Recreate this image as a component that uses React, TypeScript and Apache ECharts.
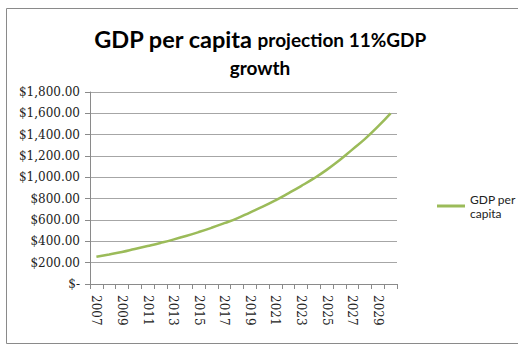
import React, { useEffect, useRef } from "react";
import * as echarts from "echarts";

const years = [
  "2007", "2008", "2009", "2010", "2011", "2012", "2013", "2014", "2015", "2016",
  "2017", "2018", "2019", "2020", "2021", "2022", "2023", "2024", "2025", "2026",
  "2027", "2028", "2029", "2030",
];
const gdpPerCapita = [
  255, 277, 300, 328, 356, 385, 416, 450, 487, 527,
  570, 615, 670, 725, 785, 850, 918, 990, 1070, 1160,
  1260, 1360, 1475, 1600,
];
const seriesName = "GDP per capita";

function fmtMoney(v: number): string {
  if (v === 0) return "$-";
  return "$" + v.toLocaleString("en-US", { minimumFractionDigits: 2, maximumFractionDigits: 2 });
}

export default function App() {
  const ref = useRef<HTMLDivElement>(null);
  useEffect(() => {
    if (!ref.current) return;
    const chart = echarts.init(ref.current, undefined, { renderer: "svg" });
    chart.setOption({
      animation: false,
      backgroundColor: "#ffffff",
      graphic: [
        {
          type: "rect",
          shape: { x: 6.5, y: 8.5, width: 530, height: 335 },
          style: { fill: "none", stroke: "#8a8a8a", lineWidth: 1 },
          silent: true,
        },
      ],
      title: {
        left: 255,
        top: 19,
        textAlign: "center",
        text: "{a|GDP per capita} {b|projection 11%GDP}\n{b|growth}",
        textStyle: {
          rich: {
            a: { fontFamily: "Lato", fontWeight: "bold", fontSize: 23.5, color: "#000", lineHeight: 30 },
            b: { fontFamily: "Lato", fontWeight: "bold", fontSize: 19, color: "#000", lineHeight: 26 },
          },
        },
      },
      legend: {
        left: 432,
        top: 180,
        orient: "vertical",
        itemWidth: 28,
        itemHeight: 3,
        icon: "rect",
        formatter: () => "GDP per\ncapita",
        textStyle: {
          fontFamily: "Lato",
          fontSize: 12,
          color: "#222",
          lineHeight: 14,
          padding: [14, 0, 0, 0],
        },
        itemGap: 2,
        data: [seriesName],
      },
      grid: { left: 90, right: 121, top: 92, bottom: 61 },
      xAxis: {
        type: "category",
        data: years,
        boundaryGap: true,
        axisLine: { show: true, lineStyle: { color: "#8a8a8a", width: 1 } },
        axisTick: { show: true, interval: 0, length: 5, lineStyle: { color: "#8a8a8a" } },
        axisLabel: {
          interval: 1,
          rotate: -90,
          margin: 11,
          fontFamily: "DejaVu Serif",
          fontSize: 12,
          color: "#222",
        },
      },
      yAxis: {
        type: "value",
        min: 0,
        max: 1800,
        interval: 200,
        axisLine: { show: true, lineStyle: { color: "#8a8a8a", width: 1 } },
        axisTick: { show: true, length: 5, lineStyle: { color: "#8a8a8a" } },
        splitLine: { show: true, lineStyle: { color: "#a6a6a6", width: 1 } },
        axisLabel: {
          formatter: (v: number) => fmtMoney(v),
          margin: 10,
          fontFamily: "DejaVu Serif",
          fontSize: 12,
          color: "#222",
        },
      },
      series: [
        {
          name: seriesName,
          type: "line",
          data: gdpPerCapita,
          smooth: true,
          symbol: "none",
          color: "#9bbb59",
          lineStyle: { color: "#9bbb59", width: 2.5 },
        },
      ],
    });
    return () => chart.dispose();
  }, []);
  return (
    <div
      ref={ref}
      style={{ position: "fixed", left: 0, top: 0, width: 518, height: 345 }}
    />
  );
}
